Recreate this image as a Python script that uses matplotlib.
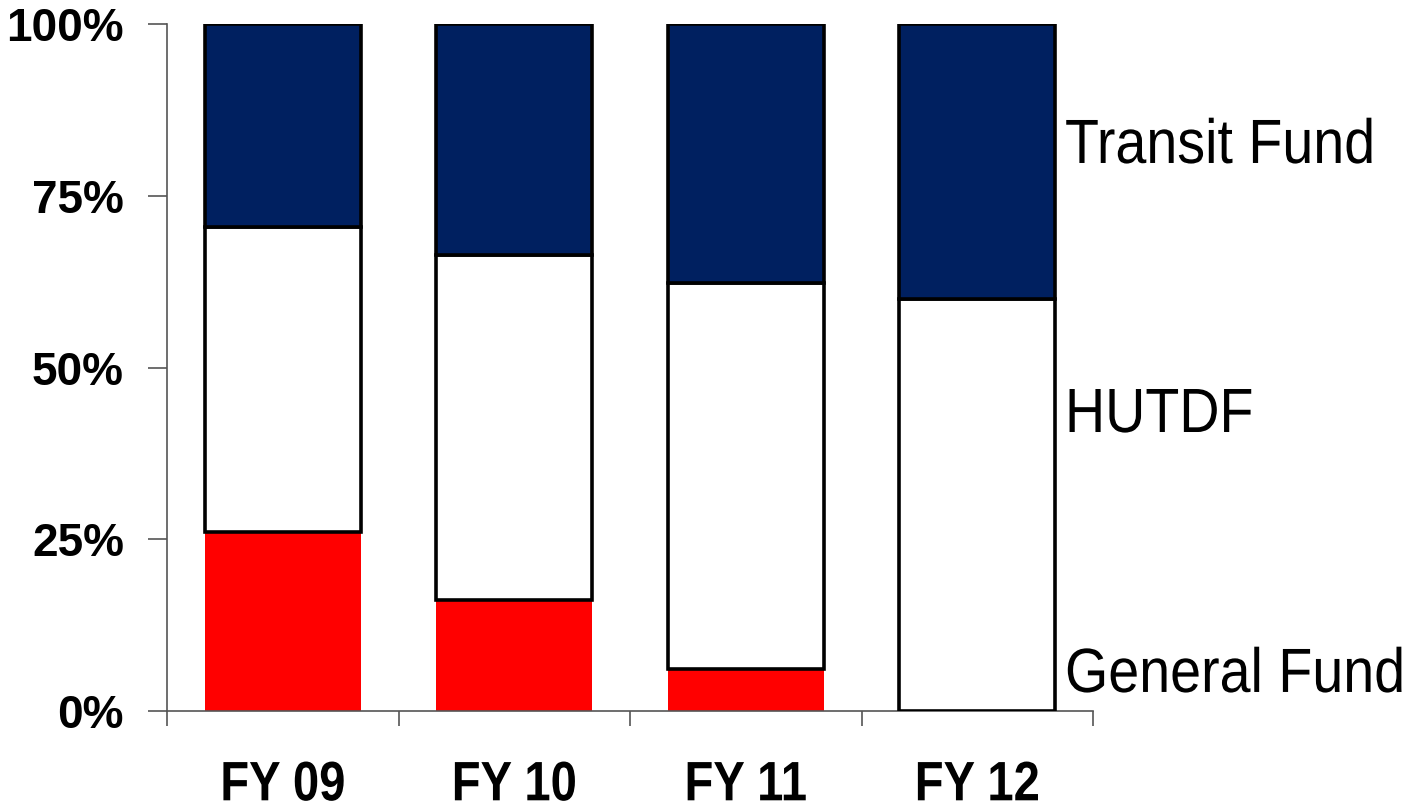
import matplotlib
matplotlib.use("Agg")
import matplotlib.pyplot as plt
import numpy as np
from matplotlib.patheffects import AbstractPathEffect
from matplotlib.transforms import Affine2D

# Share of funding by source, fiscal years 09-12 (percent)
years = ["FY 09", "FY 10", "FY 11", "FY 12"]
general_fund = [26.1, 16.2, 6.1, 0.0]
hutdf = [44.4, 50.2, 56.2, 60.0]
transit_fund = [29.5, 33.6, 37.7, 40.0]
y_ticks = [0, 25, 50, 75, 100]
y_tick_labels = ["0%", "25%", "50%", "75%", "100%"]
series_labels = ["General Fund", "HUTDF", "Transit Fund"]


class Condensed(AbstractPathEffect):
    """Squeeze glyphs horizontally about a fixed display x position."""

    def __init__(self, sx, x0):
        super().__init__()
        self.sx = sx
        self.x0 = x0

    def draw_path(self, renderer, gc, tpath, affine, rgbFace=None):
        squeeze = Affine2D().translate(-self.x0, 0).scale(self.sx, 1).translate(self.x0, 0)
        renderer.draw_path(gc, tpath, affine + squeeze, rgbFace)


DPI = 100
fig = plt.figure(figsize=(14.07, 8.06), dpi=DPI)
ax = fig.add_axes([167 / 1407, 1 - 711 / 806, (1093 - 167) / 1407, (711 - 24) / 806])

x = np.arange(len(years))
w = 0.672
gf = np.array(general_fund)
hu = np.array(hutdf)
tr = np.array(transit_fund)

ax.bar(x, gf, width=w, color="#ff0000", edgecolor="none", zorder=2)
ax.bar(x, hu, width=w, bottom=gf, color="white", edgecolor="black", linewidth=2.6, zorder=3)
ax.bar(x, tr, width=w, bottom=gf + hu, color="#002060", edgecolor="black", linewidth=2.6, zorder=3)

ax.set_xlim(-0.5, len(years) - 0.5)
ax.set_ylim(0, 100)

for s in ["top", "right"]:
    ax.spines[s].set_visible(False)
for s in ["left", "bottom"]:
    ax.spines[s].set_color("#555555")
    ax.spines[s].set_linewidth(1.2)

ax.set_yticks(y_ticks)
ax.set_yticklabels(y_tick_labels, fontsize=33, fontweight="bold", family="Liberation Sans")
ax.tick_params(axis="y", length=14, width=1.2, color="#555555", pad=17)

# category boundary ticks on x axis, labels centred on bars
ax.set_xticks(np.arange(-0.5, len(years), 1.0))
ax.set_xticklabels([])
ax.tick_params(axis="x", length=11, width=1.2, color="#555555")
for xi, lab in zip(x, years):
    cx = ax.transData.transform((xi, 0))[0]
    ax.text(xi, -13.0, lab, ha="center", va="baseline", fontsize=40, fontweight="bold",
            family="Liberation Sans", clip_on=False,
            path_effects=[Condensed(0.85, cx)])

label_y = [2.77, 40.61, 79.77]
label_x = 3.379
lx = ax.transData.transform((label_x, 0))[0]
for lab, yy in zip(series_labels, label_y):
    ax.text(label_x, yy, lab, ha="left", va="baseline", fontsize=45, family="Liberation Sans",
            clip_on=False, path_effects=[Condensed(0.89, lx)])

fig.savefig("out.png", dpi=DPI)
